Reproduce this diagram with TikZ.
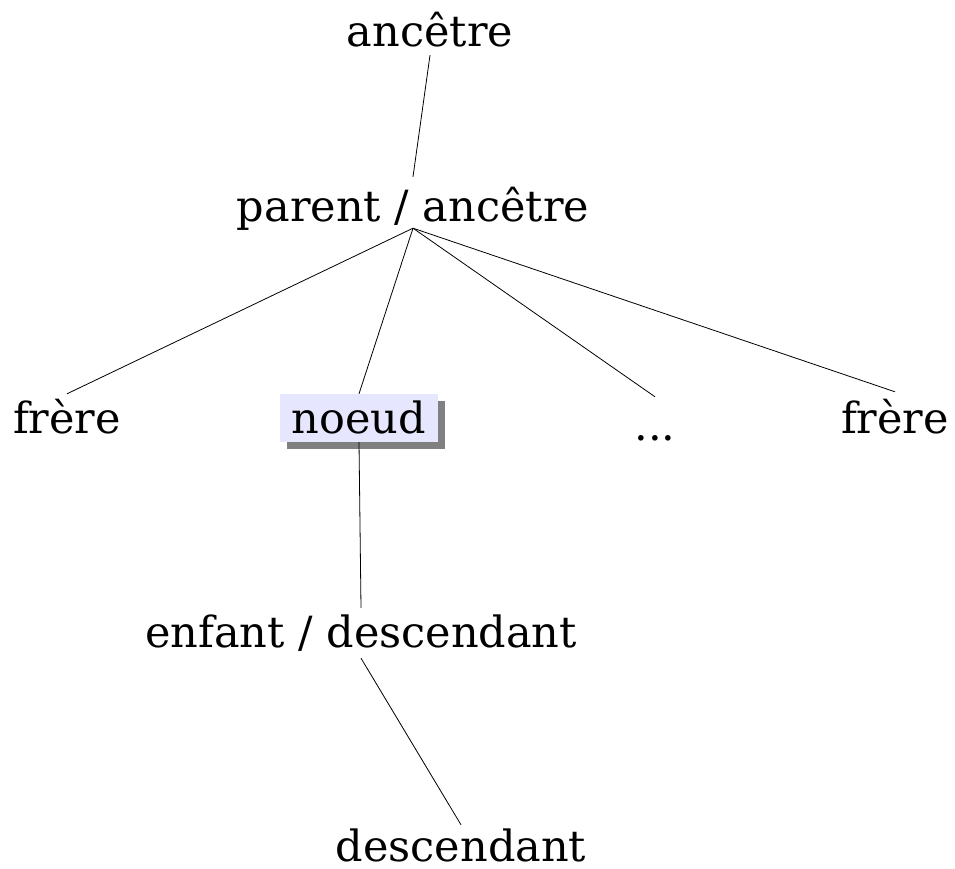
\documentclass[tikz,border=0pt]{standalone}
\usepackage{fontspec}
\setmainfont{DejaVu Serif}
\usetikzlibrary{shadows}
\definecolor{nodefill}{HTML}{E6E6FF}
\definecolor{shadowgray}{HTML}{808080}
\tikzset{
  lbl/.style={font=\fontsize{43}{51}\selectfont, inner sep=0pt, anchor=base},
  focus/.style={lbl, fill=nodefill, inner xsep=12pt,
    drop shadow={shadow xshift=7pt, shadow yshift=-7pt, fill=shadowgray, opacity=1}},
  link/.style={draw=black, line width=0.8pt}
}
\begin{document}
\begin{tikzpicture}[x=1pt,y=1pt]
  \useasboundingbox (0,0) rectangle (955,-869);
  \node[lbl, text depth=8pt] (anc) at (430,-47) {ancêtre};
  \node[lbl, text height=45pt, text depth=6pt] (par) at (413,-222) {parent / ancêtre};
  \node[lbl, text height=39pt] (fr1) at (67,-433) {frère};
  \node[focus, text height=39pt, text depth=9pt] (noeud) at (359,-433) {noeud};
  \node[lbl, text height=43pt] (dots) at (655,-440) {...};
  \node[lbl, text height=41pt] (fr2) at (895,-433) {frère};
  \node[lbl, text height=39pt, text depth=11pt] (enf) at (361,-647) {enfant / descendant};
  \node[lbl, text height=36pt] (desc) at (461,-861) {descendant};
  \draw[link] (anc.south) -- (par.north);
  \draw[link] (par.south) -- (fr1.north);
  \draw[link] (par.south) -- (noeud.north);
  \draw[link] (par.south) -- (dots.north);
  \draw[link] (par.south) -- (fr2.north);
  \draw[link] (noeud.south) -- (enf.north);
  \draw[link] (enf.south) -- (desc.north);
\end{tikzpicture}
\end{document}
